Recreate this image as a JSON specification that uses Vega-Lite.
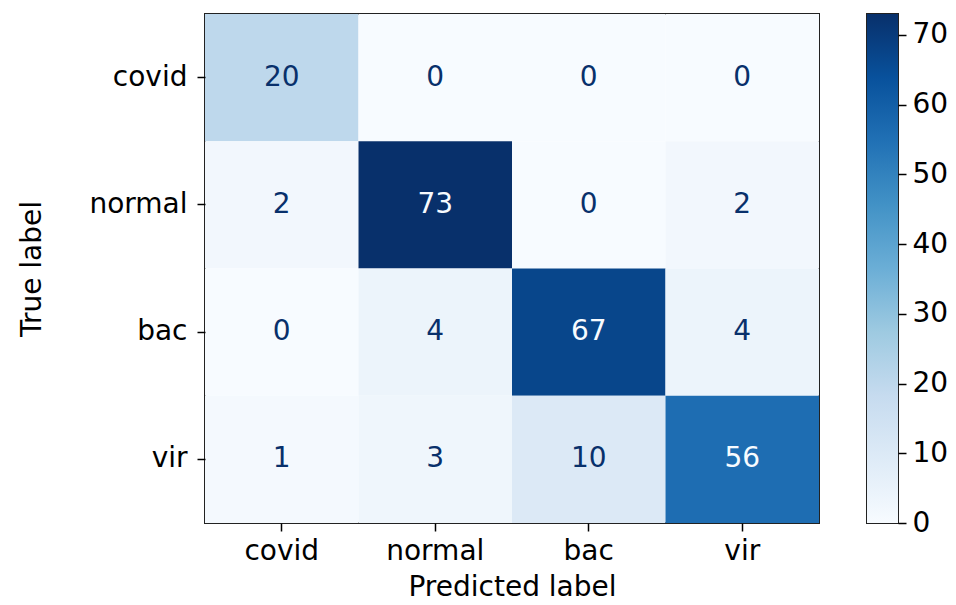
{
  "$schema": "https://vega.github.io/schema/vega-lite/v6.json",
  "background": "white",
  "padding": {"left": 17, "top": 13, "right": 5, "bottom": 0},
  "config": {
    "font": "DejaVu Sans",
    "view": {"stroke": "#222222", "strokeWidth": 2},
    "axis": {
      "domain": false,
      "grid": false,
      "tickColor": "black",
      "tickWidth": 1.5,
      "tickSize": 8,
      "labelFontSize": 28,
      "labelColor": "black",
      "titleFontSize": 28,
      "titleFontWeight": "normal",
      "titleColor": "black",
      "labelPadding": 6,
      "titlePadding": 8
    }
  },
  "datasets": {
    "cm": [
      {"true": "covid", "pred": "covid", "n": 20},
      {"true": "covid", "pred": "normal", "n": 0},
      {"true": "covid", "pred": "bac", "n": 0},
      {"true": "covid", "pred": "vir", "n": 0},
      {"true": "normal", "pred": "covid", "n": 2},
      {"true": "normal", "pred": "normal", "n": 73},
      {"true": "normal", "pred": "bac", "n": 0},
      {"true": "normal", "pred": "vir", "n": 2},
      {"true": "bac", "pred": "covid", "n": 0},
      {"true": "bac", "pred": "normal", "n": 4},
      {"true": "bac", "pred": "bac", "n": 67},
      {"true": "bac", "pred": "vir", "n": 4},
      {"true": "vir", "pred": "covid", "n": 1},
      {"true": "vir", "pred": "normal", "n": 3},
      {"true": "vir", "pred": "bac", "n": 10},
      {"true": "vir", "pred": "vir", "n": 56}
    ],
    "bar": [{"lo": 0, "hi": 73}]
  },
  "spacing": 46,
  "hconcat": [
    {
      "data": {"name": "cm"},
      "width": 614,
      "height": 509,
      "encoding": {
        "x": {"field": "pred", "type": "nominal", "sort": ["covid", "normal", "bac", "vir"], "title": "Predicted label", "axis": {"labelAngle": 0}},
        "y": {"field": "true", "type": "nominal", "sort": ["covid", "normal", "bac", "vir"], "title": "True label", "axis": {"labelPadding": 10, "titlePadding": 42}}
      },
      "layer": [
        {
          "mark": {"type": "rect"},
          "encoding": {
            "color": {
              "field": "n",
              "type": "quantitative",
              "legend": null,
              "scale": {
                "type": "linear",
                "interpolate": "rgb",
                "domain": [0, 9.125, 18.25, 27.375, 36.5, 45.625, 54.75, 63.875, 73],
                "range": ["#f7fbff", "#deebf7", "#c6dbef", "#9ecae1", "#6baed6", "#4292c6", "#2171b5", "#08519c", "#08306b"]
              }
            }
          }
        },
        {
          "mark": {"type": "text", "fontSize": 28},
          "encoding": {
            "text": {"field": "n", "type": "quantitative"},
            "color": {
              "condition": {"test": "datum.n > 36.5", "value": "#f7fbff"},
              "value": "#08306b"
            }
          }
        }
      ]
    },
    {
      "data": {"name": "bar"},
      "width": 31,
      "height": 509,
      "mark": {
        "type": "rect",
        "fill": {
          "gradient": "linear",
          "x1": 0, "y1": 1, "x2": 0, "y2": 0,
          "stops": [
            {"offset": 0, "color": "#f7fbff"},
            {"offset": 0.125, "color": "#deebf7"},
            {"offset": 0.25, "color": "#c6dbef"},
            {"offset": 0.375, "color": "#9ecae1"},
            {"offset": 0.5, "color": "#6baed6"},
            {"offset": 0.625, "color": "#4292c6"},
            {"offset": 0.75, "color": "#2171b5"},
            {"offset": 0.875, "color": "#08519c"},
            {"offset": 1, "color": "#08306b"}
          ]
        }
      },
      "encoding": {
        "y": {
          "field": "lo",
          "type": "quantitative",
          "scale": {"domain": [0, 73], "nice": false},
          "axis": {"orient": "right", "values": [0, 10, 20, 30, 40, 50, 60, 70], "title": null}
        },
        "y2": {"field": "hi"}
      }
    }
  ]
}
